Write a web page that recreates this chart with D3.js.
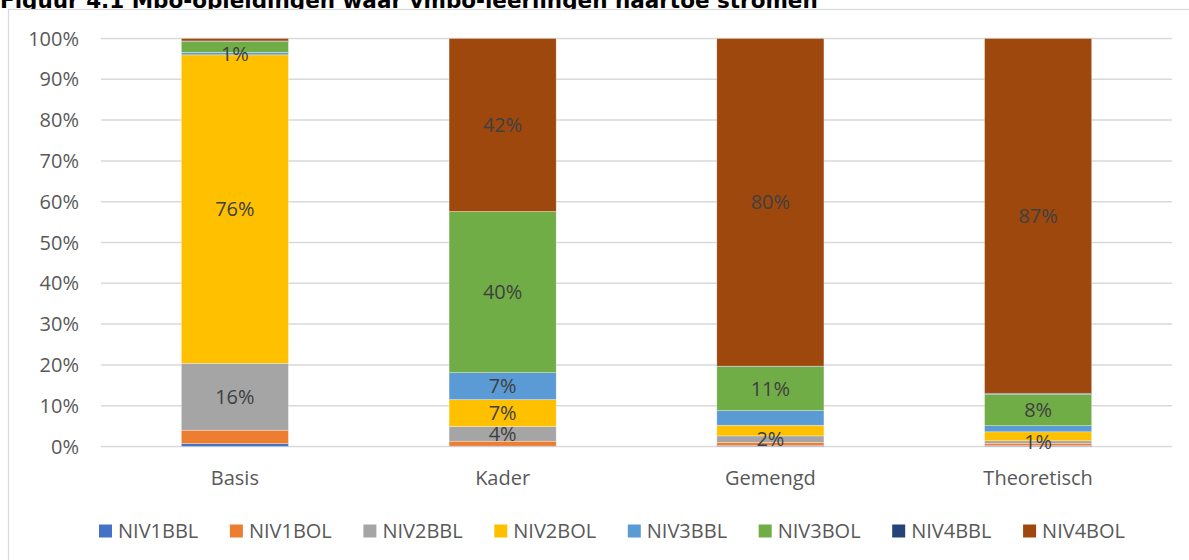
<!DOCTYPE html>
<html>
<head>
<meta charset="utf-8">
<script src="https://cdn.jsdelivr.net/npm/d3@7"></script>
<style>
    body { margin: 0; background: #fff; }
    svg { display: block; }
    text { font-family: "Open Sans", sans-serif; fill: #595959; }
</style>
</head>
<body>
<script>
// categorieen en reeksen (percentages)
const categories = ["Basis", "Kader", "Gemengd", "Theoretisch"]
const seriesNames = ["NIV1BBL", "NIV1BOL", "NIV2BBL", "NIV2BOL", "NIV3BBL", "NIV3BOL", "NIV4BBL", "NIV4BOL"]
const seriesColors = ["#4472C4", "#ED7D31", "#A5A5A5", "#FFC000", "#5B9BD5", "#70AD47", "#264478", "#9E480E"]

const niv1bbl = [0.7, 0.1, 0.2, 0.2]
const niv1bol = [3.3, 1.2, 0.8, 0.6]
const niv2bbl = [16.4, 3.6, 1.6, 0.6]
const niv2bol = [75.6, 6.6, 2.6, 2.2]
const niv3bbl = [0.6, 6.6, 3.6, 1.5]
const niv3bol = [2.7, 39.5, 10.8, 7.7]
const niv4bbl = [0.1, 0.0, 0.1, 0.25]
const niv4bol = [0.6, 42.4, 80.3, 86.95]

const yTicks = [0, 10, 20, 30, 40, 50, 60, 70, 80, 90, 100]

// welke labels zichtbaar zijn: [reeks, categorie]
const shownLabels = [
    ["NIV2BBL", "Basis"], ["NIV2BBL", "Kader"], ["NIV2BBL", "Gemengd"], ["NIV2BBL", "Theoretisch"],
    ["NIV2BOL", "Basis"], ["NIV2BOL", "Kader"],
    ["NIV3BBL", "Basis"], ["NIV3BBL", "Kader"],
    ["NIV3BOL", "Kader"], ["NIV3BOL", "Gemengd"], ["NIV3BOL", "Theoretisch"],
    ["NIV4BOL", "Kader"], ["NIV4BOL", "Gemengd"], ["NIV4BOL", "Theoretisch"]
]

const seriesValues = [niv1bbl, niv1bol, niv2bbl, niv2bol, niv3bbl, niv3bol, niv4bbl, niv4bol]

var width = 1189,
    height = 560;

var svg = d3.select("body")
    .append("svg")
    .attr("width", width)
    .attr("height", height);

// titel (bovenkant valt buiten beeld)
svg.append("text")
    .attr("x", 0)
    .attr("y", 8)
    .style("font-family", "'DejaVu Sans', Verdana, sans-serif")
    .style("font-weight", "bold")
    .style("font-size", "21.5px")
    .style("fill", "#000")
    .text("Figuur 4.1 Mbo-opleidingen waar vmbo-leerlingen naartoe stromen");

// rand van de grafiek
svg.append("rect")
    .attr("x", 8.5)
    .attr("y", 9.5)
    .attr("width", 1300)
    .attr("height", 700)
    .attr("fill", "#fff")
    .attr("stroke", "#d9d9d9")
    .attr("stroke-width", 1.2);

var x = d3.scaleBand()
    .domain(categories)
    .range([101, 1172])
    .paddingInner(0.6)
    .paddingOuter(0.3);

var y = d3.scaleLinear()
    .domain([0, 100])
    .range([446.5, 38.5]);

// rasterlijnen
svg.append("g")
    .selectAll("line")
    .data(yTicks)
    .join("line")
    .attr("x1", 101)
    .attr("x2", 1172)
    .attr("y1", d => y(d))
    .attr("y2", d => y(d))
    .attr("stroke", "#d9d9d9")
    .attr("stroke-width", 1.5);

svg.append("g")
    .selectAll("text")
    .data(yTicks)
    .join("text")
    .attr("x", 79)
    .attr("y", d => y(d) + 7)
    .attr("text-anchor", "end")
    .style("font-size", "20px")
    .text(d => d + "%");

// data omzetten voor d3.stack
var table = categories.map((c, i) => {
    var row = { cat: c }
    seriesNames.forEach((s, j) => row[s] = seriesValues[j][i])
    return row
})

var stacked = d3.stack().keys(seriesNames)(table)

var layers = svg.append("g")
    .selectAll("g")
    .data(stacked)
    .join("g")
    .attr("fill", (d, i) => seriesColors[i]);

layers.selectAll("rect")
    .data(d => d)
    .join("rect")
    .attr("x", d => x(d.data.cat))
    .attr("width", x.bandwidth())
    .attr("y", d => y(d[1]))
    .attr("height", d => y(d[0]) - y(d[1]))
    .attr("stroke", "#fff")
    .attr("stroke-opacity", 0.5)
    .attr("stroke-width", 0.6);

// labels in de balken
var labelData = []
stacked.forEach(layer => {
    layer.forEach(d => {
        var show = shownLabels.find(p => p[0] == layer.key && p[1] == d.data.cat)
        if (show) labelData.push({ cat: d.data.cat, lo: d[0], hi: d[1], value: d.data[layer.key] })
    })
})

svg.append("g")
    .selectAll("text")
    .data(labelData)
    .join("text")
    .attr("x", d => x(d.cat) + x.bandwidth() / 2)
    .attr("y", d => y((d.lo + d.hi) / 2) + 7)
    .attr("text-anchor", "middle")
    .style("font-size", "20px")
    .style("fill", "#404040")
    .text(d => Math.round(d.value) + "%");

// categorie-as
svg.append("g")
    .selectAll("text")
    .data(categories)
    .join("text")
    .attr("x", d => x(d) + x.bandwidth() / 2)
    .attr("y", 485)
    .attr("text-anchor", "middle")
    .style("font-size", "20px")
    .text(d => d);

// legenda
var legend = svg.append("g");
var items = legend.selectAll("g")
    .data(seriesNames)
    .join("g");

items.append("rect")
    .attr("width", 13)
    .attr("height", 13)
    .attr("y", 524.5)
    .attr("fill", (d, i) => seriesColors[i]);

items.append("text")
    .attr("x", 19)
    .attr("y", 538)
    .style("font-size", "20px")
    .text(d => d);

var widths = []
items.each(function () { widths.push(19 + this.querySelector("text").getComputedTextLength()) })
var legendStart = 99, legendEnd = 1125
var gap = (legendEnd - legendStart - d3.sum(widths)) / (widths.length - 1)
var pos = legendStart
items.attr("transform", (d, i) => {
    var t = `translate(${pos},0)`
    pos += widths[i] + gap
    return t
})
</script>
</body>
</html>
